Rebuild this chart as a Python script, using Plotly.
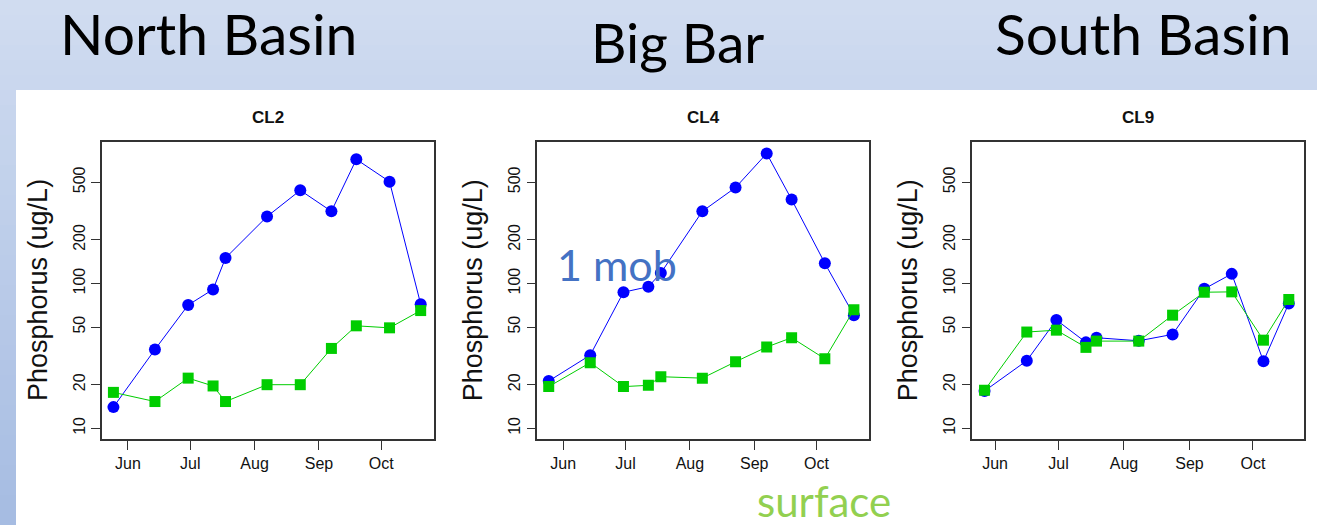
import plotly.graph_objects as go

W, H = 1317, 525

# ---------------- data ----------------
stations = ["CL2", "CL4", "CL9"]
regions = ["North Basin", "Big Bar", "South Basin"]
month_ticks = ["2014-06-01", "2014-07-01", "2014-08-01", "2014-09-01", "2014-10-01"]
month_labels = ["Jun", "Jul", "Aug", "Sep", "Oct"]
y_ticks = [10, 20, 50, 100, 200, 500]

cl2_dates = ["2014-05-25", "2014-06-14", "2014-06-30", "2014-07-12", "2014-07-18", "2014-08-07",
             "2014-08-23", "2014-09-07", "2014-09-19", "2014-10-05", "2014-10-20"]
cl2_bottom = [14.0, 35, 71, 91, 150, 290, 440, 315, 720, 505, 72]
cl2_surface = [17.7, 15.3, 22.2, 19.6, 15.3, 20, 20, 35.6, 51, 49.4, 65]

cl4_dates = ["2014-05-25", "2014-06-14", "2014-06-30", "2014-07-12", "2014-07-18", "2014-08-07",
             "2014-08-23", "2014-09-07", "2014-09-19", "2014-10-05", "2014-10-19"]
cl4_bottom = [21.2, 32, 87, 95, 118, 315, 460, 790, 380, 138, 60.4]
cl4_surface = [19.4, 28.4, 19.4, 19.8, 22.7, 22.2, 28.8, 36.4, 42.2, 30.2, 65.8]

cl9_dates = ["2014-05-27", "2014-06-16", "2014-06-30", "2014-07-14", "2014-07-19", "2014-08-08",
             "2014-08-24", "2014-09-08", "2014-09-21", "2014-10-06", "2014-10-18"]
cl9_bottom = [18.1, 29.3, 56, 39.2, 42.2, 40.2, 44.5, 91.8, 116.5, 29, 72.8]
cl9_surface = [18.3, 46.2, 47.6, 36.2, 40, 40, 60.4, 87, 87.5, 40.6, 77.6]

dates = [cl2_dates, cl4_dates, cl9_dates]
bottoms = [cl2_bottom, cl4_bottom, cl9_bottom]
surfaces = [cl2_surface, cl4_surface, cl9_surface]

# ---------------- layout helpers ----------------
def fx(x):
    return x / W

def fy(y):
    return 1 - y / H

box_left = [102, 537.3, 972.3]
box_w = 332
box_top, box_bot = 142, 439
x_ranges = [["2014-05-19 12:00", "2014-10-26 10:00"],
            ["2014-05-19 12:00", "2014-10-26 10:00"],
            ["2014-05-21 05:00", "2014-10-25 08:00"]]

fig = go.Figure()

# background gradient
top_rgb = (208, 220, 240)
bot_rgb = (166, 188, 226)
n = 35
shapes = []
for i in range(n):
    t = i / (n - 1)
    c = tuple(int(round(top_rgb[k] + (bot_rgb[k] - top_rgb[k]) * t)) for k in range(3))
    y0 = i * H / n
    y1 = (i + 1) * H / n + 1
    shapes.append(dict(type="rect", xref="paper", yref="paper", x0=0, x1=1,
                       y0=fy(min(y1, H)), y1=fy(y0), line=dict(width=0),
                       fillcolor="rgb(%d,%d,%d)" % c, layer="below"))
shapes.append(dict(type="rect", xref="paper", yref="paper", x0=fx(16), x1=1,
                   y0=0, y1=fy(90), line=dict(width=0), fillcolor="white", layer="below"))

annotations = []
for i in range(3):
    xa = "x" if i == 0 else "x%d" % (i + 1)
    ya = "y" if i == 0 else "y%d" % (i + 1)
    fig.add_trace(go.Scatter(x=dates[i], y=bottoms[i], mode="lines+markers",
                             line=dict(color="#0000ff", width=1),
                             marker=dict(symbol="circle", size=12, color="#0000ff"),
                             xaxis=xa, yaxis=ya, showlegend=False))
    fig.add_trace(go.Scatter(x=dates[i], y=surfaces[i], mode="lines+markers",
                             line=dict(color="#00cd00", width=1),
                             marker=dict(symbol="square", size=11, color="#00cd00"),
                             xaxis=xa, yaxis=ya, showlegend=False))
    xkey = "xaxis" if i == 0 else "xaxis%d" % (i + 1)
    ykey = "yaxis" if i == 0 else "yaxis%d" % (i + 1)
    L = box_left[i]
    fig.update_layout(**{
        xkey: dict(domain=[fx(L), fx(L + box_w)], anchor=ya, type="date", range=x_ranges[i],
                   tickvals=month_ticks, ticktext=month_labels, ticks="outside", ticklen=9,
                   tickcolor="#333", showline=True, mirror=True, linecolor="#333", linewidth=1.5,
                   showgrid=False, zeroline=False,
                   tickfont=dict(family="Liberation Sans, Arial", size=16, color="#111")),
        ykey: dict(domain=[fy(box_bot), fy(box_top)], anchor=xa, type="log", range=[0.926, 2.977],
                   tickvals=y_ticks, ticktext=[str(v) for v in y_ticks], tickangle=-90,
                   ticks="outside", ticklen=9, tickcolor="#333", showline=True, mirror=True,
                   linecolor="#333", linewidth=1.5, showgrid=False, zeroline=False,
                   tickfont=dict(family="Liberation Sans, Arial", size=16, color="#111")),
    })
    cx = L + box_w / 2
    annotations.append(dict(text="<b>%s</b>" % stations[i], x=fx(cx), y=fy(117), xref="paper",
                            yref="paper", showarrow=False, xanchor="center", yanchor="middle",
                            font=dict(family="Liberation Sans, Arial", size=17, color="#111")))
    annotations.append(dict(text="Phosphorus (ug/L)", x=fx(L - 64), y=fy(290), xref="paper",
                            yref="paper", showarrow=False, xanchor="center", yanchor="middle",
                            textangle=-90,
                            font=dict(family="Liberation Sans, Arial", size=27, color="#111")))

hdr_pos = [(58, 33, 57), (589, 42, 55), (993, 33, 57)]
for (hx, hy, hs), name in zip(hdr_pos, regions):
    annotations.append(dict(text=name, x=fx(hx), y=fy(hy), xref="paper", yref="paper",
                            showarrow=False, xanchor="left", yanchor="middle",
                            font=dict(family="Lato", size=hs, color="#000")))

annotations.append(dict(text="1 mob", x=fx(555), y=fy(264), xref="paper", yref="paper",
                        showarrow=False, xanchor="left", yanchor="middle",
                        font=dict(family="Lato", size=43, color="#4472c4")))
annotations.append(dict(text="surface", x=fx(755), y=fy(501), xref="paper", yref="paper",
                        showarrow=False, xanchor="left", yanchor="middle",
                        font=dict(family="Lato", size=42, color="#92d050")))

fig.update_layout(width=W, height=H, margin=dict(l=0, r=0, t=0, b=0),
                  paper_bgcolor="white", plot_bgcolor="rgba(0,0,0,0)",
                  shapes=shapes, annotations=annotations)

fig.write_html("out.html")
